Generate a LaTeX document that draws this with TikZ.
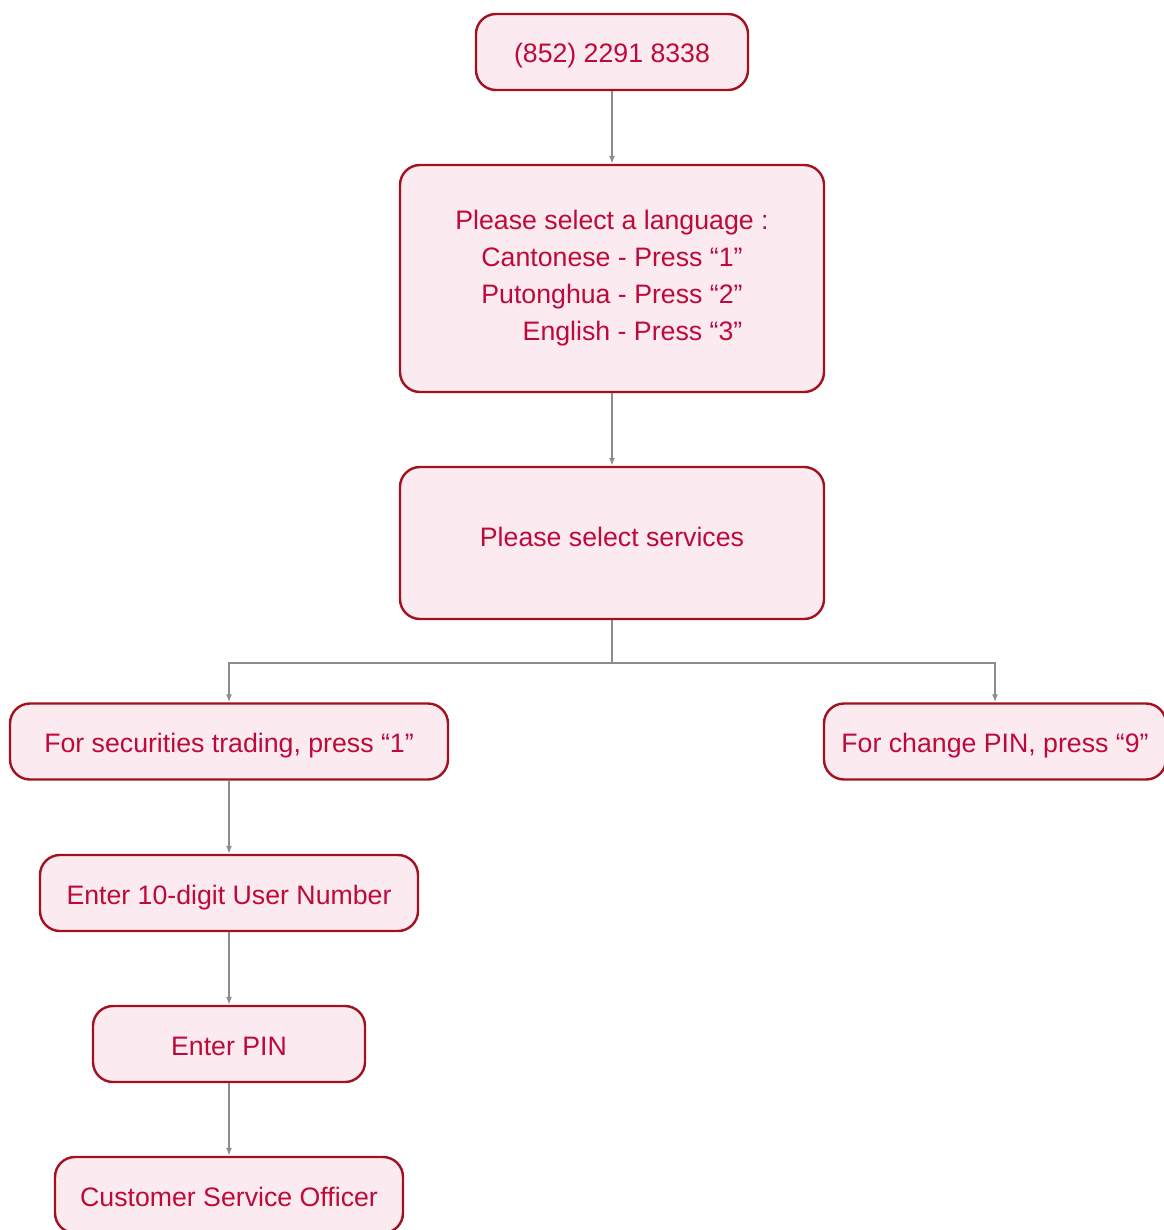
\documentclass[tikz,border=0pt]{standalone}
\usepackage{fontspec}
\setmainfont{Liberation Sans}
\usepackage{xcolor}
\usepackage{tikz}
\usetikzlibrary{positioning,arrows.meta}
\definecolor{ivrtext}{HTML}{BE0A3A}
\definecolor{ivrline}{HTML}{A3111F}
\definecolor{ivrfill}{HTML}{FBEAF0}
\definecolor{ivrgray}{HTML}{8C8C8C}

\begin{document}
\begin{tikzpicture}[x=1pt, y=-1pt,
  menubox/.style={draw=ivrline, line width=2.4pt, fill=ivrfill, rounded corners=20pt,
    text=ivrtext, inner sep=0pt, align=center,
    font=\fontsize{26.7pt}{37pt}\selectfont},
  onerow/.style={menubox, minimum height=76, text height=23pt, text depth=1pt},
  conn/.style={draw=ivrgray, line width=1.6pt, -{Latex[length=8pt, width=6pt]}}]
\useasboundingbox (0,0) rectangle (1163,1230);
\node[onerow, minimum width=272] (phone) at (612,52) {(852) 2291 8338};
\node[menubox, minimum width=424, minimum height=227] (lang) at (612,278.5)
  {Please select a language :\\Cantonese - Press “1”\\Putonghua - Press “2”\\\hspace*{41pt}English - Press “3”};
\node[menubox, minimum width=424, minimum height=152] (serv) at (612,543) {\raisebox{12pt}{Please select services}};
\node[onerow, minimum width=438] (trade) at (229,741.5) {For securities trading, press “1”};
\node[onerow, minimum width=342] (chpin) at (995,741.5) {For change PIN, press “9”};
\node[onerow, minimum width=378] (user) at (229,893) {Enter 10-digit User Number};
\node[onerow, minimum width=272] (pin) at (229,1044) {Enter PIN};
\node[onerow, minimum width=348] (cso) at (229,1195) {Customer Service Officer};
\coordinate (fork) at (612,663);
\draw[conn] (phone) -- (lang);
\draw[conn] (lang) -- (serv);
\draw[conn] (serv.south) -- (fork) -| (trade.north);
\draw[conn] (fork) -| (chpin.north);
\draw[conn] (trade) -- (user);
\draw[conn] (user) -- (pin);
\draw[conn] (pin) -- (cso);
\end{tikzpicture}
\end{document}
